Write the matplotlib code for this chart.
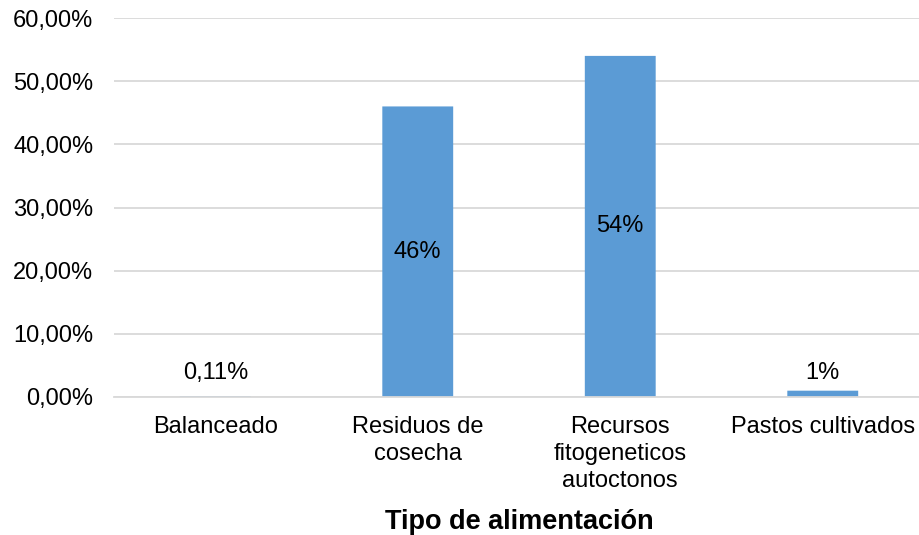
import matplotlib.pyplot as plt
import matplotlib.ticker as ticker

plt.rcParams["font.family"] = ["Liberation Sans", "DejaVu Sans"]

categories = ["Balanceado", "Residuos de\ncosecha", "Recursos\nfitogeneticos\nautoctonos", "Pastos cultivados"]
values = [0.11, 46, 54, 1]
bar_labels = ["0,11%", "46%", "54%", "1%"]
label_inside = [False, True, True, False]

FS = 17

fig = plt.figure(figsize=(9.19, 5.35), dpi=100)
ax = fig.add_axes([114 / 919, 1 - 397 / 535, 810 / 919, 379 / 535])

x = range(len(categories))
bars = ax.bar(x, values, width=0.35, color="#5B9BD5", zorder=3, snap=False, linewidth=0)

for rect, lab, inside in zip(bars, bar_labels, label_inside):
    cx = rect.get_x() + rect.get_width() / 2
    h = rect.get_height()
    if inside:
        ax.text(cx, h / 2, lab, ha="center", va="center", fontsize=FS, color="#000000", zorder=4)
    else:
        # small bars: label sits just above the base line
        ax.annotate(lab, (cx, 0), xytext=(0, 13), textcoords="offset points",
                    ha="center", va="baseline", fontsize=FS, color="#000000")

ax.set_xlim(-0.5, len(categories) - 0.5)
ax.set_ylim(0, 60)
ax.yaxis.set_major_locator(ticker.MultipleLocator(10))
ax.yaxis.set_major_formatter(ticker.FuncFormatter(lambda v, p: f"{v:.2f}%".replace(".", ",")))
ax.set_xticks(list(x))
ax.set_xticklabels(categories, fontsize=FS, linespacing=1.28)
ax.tick_params(axis="y", labelsize=FS, length=0, pad=15)
ax.tick_params(axis="x", length=0, pad=14)

ax.grid(axis="y", color="#d9d9d9", linewidth=1.3, zorder=0)
for s in ["top", "right", "left"]:
    ax.spines[s].set_visible(False)
ax.spines["bottom"].set_color("#d9d9d9")
ax.spines["bottom"].set_linewidth(1.3)
ax.spines["bottom"].set_zorder(4)

ax.set_xlabel("Tipo de alimentación", fontsize=19.5, fontweight="bold", labelpad=12)

fig.savefig("out.png", dpi=100)
